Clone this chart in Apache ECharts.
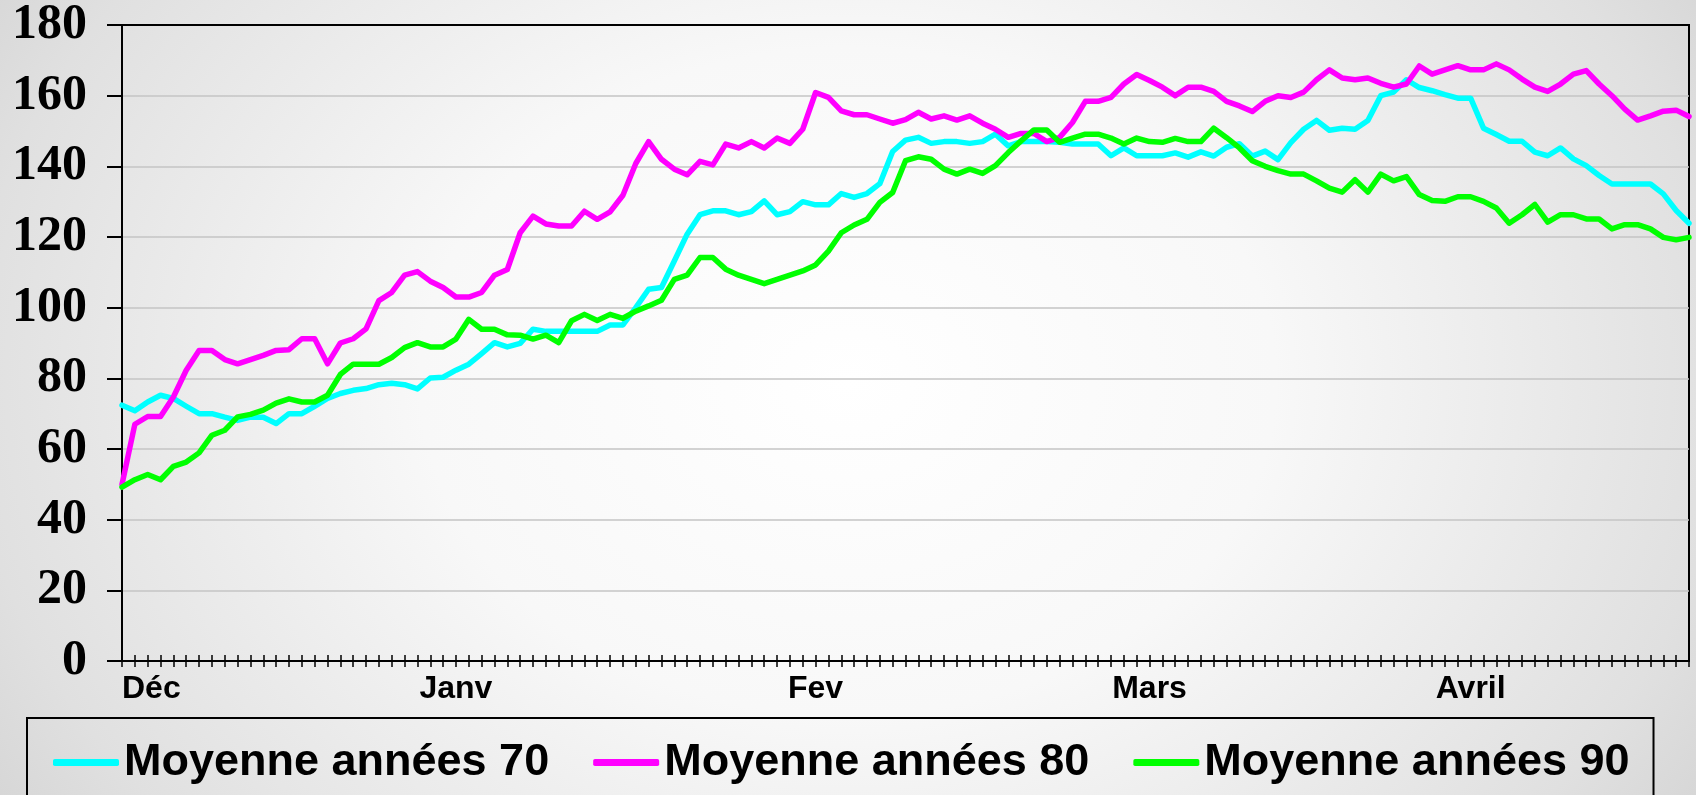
<!DOCTYPE html>
<html>
<head>
<meta charset="utf-8">
<script src="https://cdn.jsdelivr.net/npm/echarts@6/dist/echarts.min.js"></script>
<style>
	html, body {
		margin: 0;
		padding: 0;
	}
	#chart {
		width: 1696px;
		height: 795px;
		background: radial-gradient(ellipse 72% 120% at 50% 48%, #ffffff 0%, #f8f8f8 35%, #e0e0e0 72%, #c6c6c6 100%);
	}
</style>
</head>
<body>
<div id="chart"></div>
<script>
	// libellés des mois et position (indice de catégorie)
	var monthLabels = ['Déc', 'Janv', 'Fev', 'Mars', 'Avril'];
	var monthIndex = [0, 26, 54, 80, 105];
	var pointCount = 123;

	var yTicks = [0, 20, 40, 60, 80, 100, 120, 140, 160, 180];

	var seriesNames = ['Moyenne années 70', 'Moyenne années 80', 'Moyenne années 90'];

	var moy70 = [
		72.4, 70.8, 73.3, 75.2, 74.3, 72.1, 70, 70, 69, 68.1,
		69, 69, 67.2, 70, 70, 72.1, 74.3, 75.7, 76.6, 77.1,
		78.2, 78.6, 78.2, 77, 80.1, 80.3, 82.3, 84, 87, 90.1,
		88.9, 89.9, 93.9, 93.3, 93.3, 93.3, 93.3, 93.3, 95.1, 95.1,
		100, 105.2, 105.7, 113.2, 120.8, 126.3, 127.4, 127.4, 126.3, 127.2,
		130.2, 126.3, 127.2, 130, 129.1, 129.1, 132.3, 131.2, 132.3, 135.1,
		144.2, 147.4, 148.2, 146.5, 147, 147, 146.5, 147, 149.1, 145.8,
		147, 147, 147, 146.8, 146.3, 146.3, 146.3, 143, 145.2, 143,
		143, 143, 143.8, 142.6, 144.1, 142.9, 145.4, 146.4, 142.9, 144.3,
		141.9, 146.7, 150.5, 153, 150.2, 150.8, 150.5, 153, 160, 161,
		164.5, 162.3, 161.4, 160.3, 159.3, 159.3, 150.8, 149, 147.1, 147.1,
		144, 143, 145.2, 142.1, 140.2, 137.4, 135, 135, 135, 135,
		132.2, 127.5, 123.9
	];

	var moy80 = [
		50, 67, 69.2, 69.2, 74.7, 82.3, 87.9, 87.9, 85.3, 84.1,
		85.3, 86.5, 87.9, 88.1, 91.2, 91.2, 84.1, 90, 91.2, 94,
		102, 104.3, 109.2, 110.2, 107.5, 105.7, 103, 103, 104.3, 109.2,
		110.8, 121.2, 125.9, 123.7, 123.1, 123.1, 127.3, 125, 127.1, 131.8,
		140.8, 147, 142, 139.2, 137.6, 141.4, 140.4, 146.3, 145.2, 147,
		145.2, 148, 146.5, 150.5, 160.9, 159.5, 155.7, 154.6, 154.6, 153.4,
		152.2, 153.2, 155.3, 153.4, 154.3, 153.1, 154.3, 152.2, 150.5, 148.2,
		149.3, 149.3, 147, 148.2, 152.4, 158.4, 158.4, 159.5, 163.3, 166,
		164.3, 162.4, 160, 162.4, 162.4, 161.2, 158.4, 157.1, 155.5, 158.4,
		160, 159.5, 161, 164.5, 167.3, 165, 164.5, 165, 163.5, 162.4,
		163.3, 168.4, 166.1, 167.3, 168.5, 167.3, 167.3, 169, 167.3, 164.7,
		162.4, 161.2, 163.3, 166.1, 167.1, 163.3, 160, 156.2, 153.1, 154.3,
		155.6, 155.9, 154.1
	];

	var moy90 = [
		49.2, 51.3, 52.8, 51.3, 55.1, 56.3, 58.9, 63.9, 65.3, 69.1,
		69.8, 71, 73, 74.2, 73.3, 73.3, 75.2, 81.1, 84, 84,
		84, 85.9, 88.7, 90.1, 88.9, 88.9, 91.1, 96.7, 93.9, 93.9,
		92.3, 92.2, 91.1, 92.2, 90.1, 96.3, 98.1, 96.4, 98.1, 97,
		99, 100.5, 102.1, 108, 109.2, 114.2, 114.2, 110.9, 109.2, 108,
		106.8, 108, 109.2, 110.4, 112.1, 116, 121.2, 123.4, 125, 129.8,
		132.6, 141.6, 142.7, 142, 139.2, 137.8, 139.2, 138, 140.2, 143.9,
		147.2, 150.3, 150.3, 146.8, 148, 149.1, 149.1, 148, 146.3, 148,
		147, 146.8, 147.9, 147, 147, 150.8, 148.1, 145.2, 141.6, 140,
		138.8, 137.8, 137.8, 135.9, 133.8, 132.7, 136.2, 132.7, 137.8, 135.9,
		137.1, 132, 130.3, 130.1, 131.4, 131.4, 130.1, 128.2, 123.9, 126.3,
		129.2, 124.2, 126.3, 126.3, 125.1, 125.1, 122.3, 123.5, 123.5, 122.3,
		119.9, 119.2, 119.9
	];

	var seriesColors = ['#00ffff', '#ff00ff', '#00ff00'];

	var categories = [];
	for (var i = 0; i < pointCount; i++) {
		categories.push('');
	}
	monthIndex.forEach(function (idx, k) {
		categories[idx] = monthLabels[k];
	});

	var sansFont = '"Liberation Sans", Arial, sans-serif';
	var serifFont = '"Liberation Serif", "Times New Roman", serif';

	function makeLine(name, data, color) {
		return {
			name: name,
			type: 'line',
			data: data,
			symbol: 'none',
			showSymbol: false,
			smooth: false,
			lineStyle: {
				color: color,
				width: 5.5,
				cap: 'round',
				join: 'round'
			},
			itemStyle: { color: color }
		};
	}

	var myChart = echarts.init(document.getElementById('chart'));
	myChart.setOption({
		animation: false,
		backgroundColor: 'transparent',
		grid: {
			left: 122,
			right: 7,
			top: 24,
			bottom: 134,
			show: true,
			borderColor: '#000',
			borderWidth: 2,
			backgroundColor: 'transparent'
		},
		legend: {
			left: 27,
			top: 718,
			padding: [22, 24, 30, 26],
			borderColor: '#000',
			borderWidth: 2,
			itemGap: 44,
			itemWidth: 66,
			itemHeight: 7,
			icon: 'roundRect',
			textStyle: {
				color: '#000',
				fontSize: 45,
				fontWeight: 'bold',
				fontFamily: sansFont
			},
			data: seriesNames
		},
		xAxis: [{
			type: 'category',
			boundaryGap: false,
			data: categories,
			axisLine: {
				show: true,
				lineStyle: { color: '#000', width: 2 }
			},
			axisTick: {
				show: true,
				interval: 0,
				length: 6,
				lineStyle: { color: '#000', width: 1.5 }
			},
			axisLabel: {
				interval: 0,
				margin: 12,
				color: '#000',
				fontSize: 32,
				fontWeight: 'bold',
				fontFamily: sansFont,
				alignMinLabel: 'left'
			},
			splitLine: { show: false }
		}, {
			type: 'category',
			position: 'bottom',
			boundaryGap: false,
			data: categories,
			axisLine: { show: false },
			axisTick: {
				show: true,
				inside: true,
				interval: 0,
				length: 6,
				lineStyle: { color: '#000', width: 1.5 }
			},
			axisLabel: { show: false },
			splitLine: { show: false }
		}],
		yAxis: {
			type: 'value',
			min: yTicks[0],
			max: yTicks[yTicks.length - 1],
			interval: 20,
			axisLine: {
				show: true,
				lineStyle: { color: '#000', width: 2 }
			},
			axisTick: {
				show: true,
				length: 15,
				lineStyle: { color: '#000', width: 2 }
			},
			axisLabel: {
				margin: 35,
				color: '#000',
				fontSize: 50,
				fontWeight: 'bold',
				fontFamily: serifFont
			},
			splitLine: {
				show: true,
				showMinLine: false,
				showMaxLine: false,
				lineStyle: { color: '#c4c4c4', width: 1.5 }
			}
		},
		series: [
			makeLine(seriesNames[0], moy70, seriesColors[0]),
			makeLine(seriesNames[1], moy80, seriesColors[1]),
			makeLine(seriesNames[2], moy90, seriesColors[2])
		]
	});
</script>
</body>
</html>
